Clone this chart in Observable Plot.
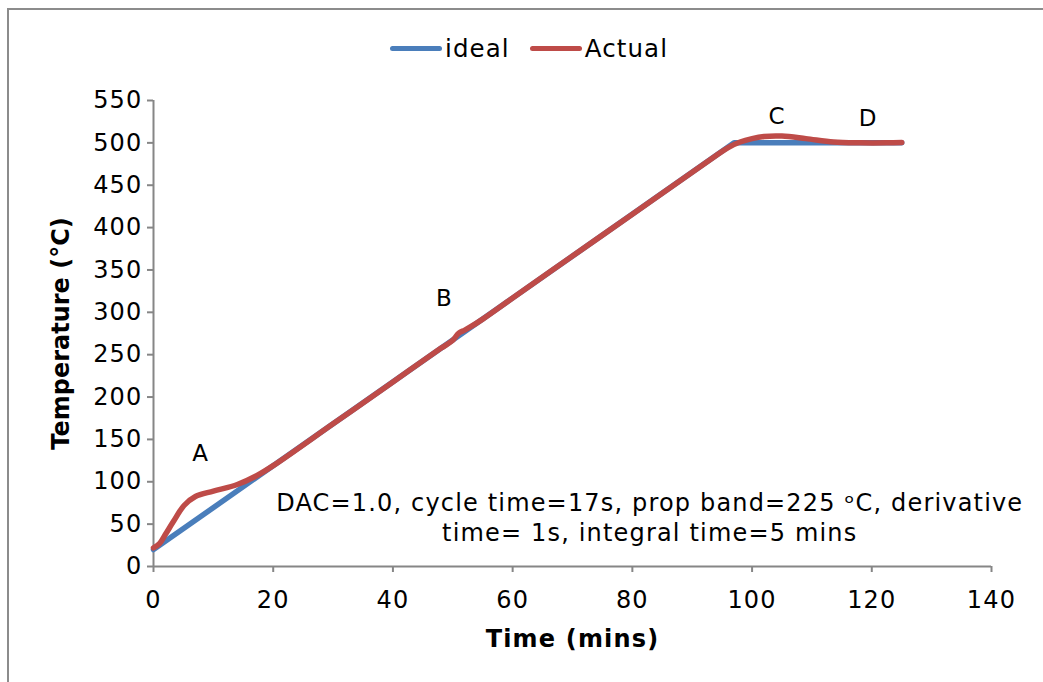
<!DOCTYPE html>
<html>
<head>
<meta charset="utf-8">
<script src="https://cdn.jsdelivr.net/npm/d3@7"></script>
<script src="https://cdn.jsdelivr.net/npm/@observablehq/plot@0.6"></script>
<style>
  html, body { margin: 0; padding: 0; background: #fff; }
  #frame { position: relative; width: 1043px; height: 682px; overflow: hidden; font-family: "DejaVu Sans", Verdana, sans-serif; }
  #border { position: absolute; left: 7px; top: 8px; width: 1100px; height: 700px; border-top: 2px solid #8c8c8c; border-left: 2px solid #8c8c8c; box-sizing: border-box; }
  #legend { position: absolute; top: 34px; left: 390px; display: flex; align-items: center; font-size: 24.5px; letter-spacing: 1.1px; color: #000; }
  .sw { display: inline-block; width: 52px; height: 5px; border-radius: 3px; margin-right: 3px; }
  .item { display: flex; align-items: center; margin-right: 20px; }
  #chart { position: absolute; left: 0; top: 0; }
  #chart svg text { fill: #000; letter-spacing: 1.17px; }
  g[aria-label="x-axis label"] text, g[aria-label="y-axis label"] text { font-weight: bold; }
  #chart svg g[aria-label="y-axis label"] text { letter-spacing: 0px; }
</style>
</head>
<body>
<div id="frame">
  <div id="border"></div>
  <div id="chart"></div>
  <div id="legend"></div>
</div>
<script>
// Series
const idealTime = [0, 97, 125];
const idealTemp = [20, 500, 500];

const actualTime = [0, 1, 2, 3.4, 5.1, 7, 10, 14, 17.3, 20, 30, 40, 48, 50, 51, 52, 53, 55, 60, 70, 80, 90, 94, 96, 98, 100, 102, 105, 109, 113.6, 118, 122.5, 125];
const actualTemp = [22, 27, 38, 54, 72, 82.6, 89, 96.8, 107.4, 119, 168.4, 217.9, 257.5, 267, 275.5, 279, 283, 292, 316.9, 366.4, 415.8, 465.3, 485, 494.5, 501, 505, 507.5, 508, 505, 501, 500, 500, 500.5];

const seriesNames = ["ideal", "Actual"];
const seriesColors = ["#4A7EBB", "#BE4B48"];

const xTicks = [0, 20, 40, 60, 80, 100, 120, 140];
const yTicks = [0, 50, 100, 150, 200, 250, 300, 350, 400, 450, 500, 550];

const pointLabels = ["A", "B", "C", "D"];
const pointLabelX = [7.9, 48.6, 104.2, 119.4];
const pointLabelY = [133, 316, 531, 529];

const noteText = ["DAC=1.0, cycle time=17s, prop band=225 ᵒC, derivative", "time= 1s, integral time=5 mins"];
const noteX = [82.9, 82.9];
const noteY = [74.4, 39];

const ideal = idealTime.map((t, i) => ({t, v: idealTemp[i]}));
const actual = actualTime.map((t, i) => ({t, v: actualTemp[i]}));
const labels = pointLabels.map((s, i) => ({s, x: pointLabelX[i], y: pointLabelY[i]}));
const notes = noteText.map((s, i) => ({s, x: noteX[i], y: noteY[i]}));

const plot = Plot.plot({
  width: 1043,
  height: 682,
  marginTop: 100,
  marginBottom: 116,
  marginLeft: 153,
  marginRight: 52,
  style: { fontFamily: "'DejaVu Sans', Verdana, sans-serif", fontSize: "24px", background: "transparent", overflow: "visible" },
  x: { domain: [0, 140], ticks: xTicks, label: "Time (mins)" },
  y: { domain: [0, 550], ticks: yTicks, label: "Temperature (°C)" },
  marks: [
    Plot.ruleY([0], { stroke: "#868686", strokeWidth: 2 }),
    Plot.ruleX([0], { stroke: "#868686", strokeWidth: 2 }),
    Plot.axisX({ ticks: xTicks, tickSize: 6, tickPadding: 18, stroke: "#868686", strokeWidth: 2, fontSize: 24,
      label: "Time (mins)", labelAnchor: "center", labelArrow: "none", labelOffset: 80 }),
    Plot.axisY({ ticks: yTicks, tickSize: 6, tickPadding: 5, stroke: "#868686", strokeWidth: 2, fontSize: 24,
      label: "Temperature (°C)", labelAnchor: "center", labelArrow: "none", labelOffset: 102 }),
    Plot.line(ideal, { x: "t", y: "v", stroke: seriesColors[0], strokeWidth: 5.5 }),
    Plot.line(actual, { x: "t", y: "v", stroke: seriesColors[1], strokeWidth: 5.5, curve: "catmull-rom" }),
    Plot.text(labels, { x: "x", y: "y", text: "s", fontSize: 23 }),
    Plot.text(notes, { x: "x", y: "y", text: "s", fontSize: 24 })
  ]
});
document.getElementById("chart").appendChild(plot);

const legend = document.getElementById("legend");
seriesNames.forEach((n, i) => {
  const item = document.createElement("div");
  item.className = "item";
  const sw = document.createElement("span");
  sw.className = "sw";
  sw.style.background = seriesColors[i];
  const tx = document.createElement("span");
  tx.textContent = n;
  item.appendChild(sw);
  item.appendChild(tx);
  legend.appendChild(item);
});
</script>
</body>
</html>
